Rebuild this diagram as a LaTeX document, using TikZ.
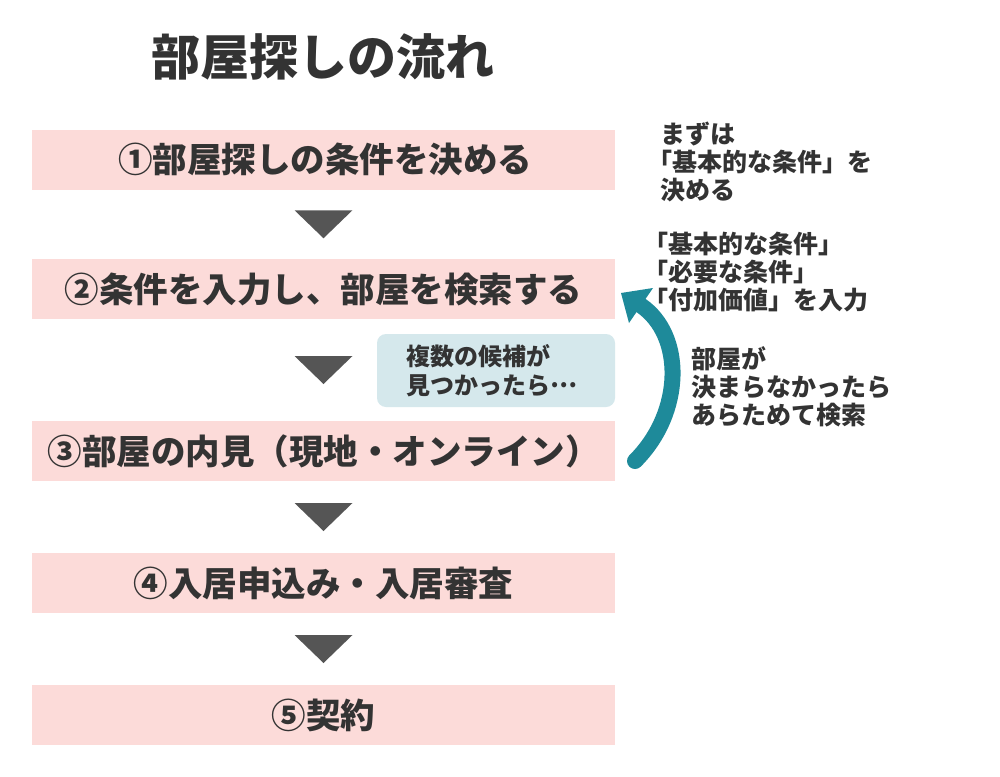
\documentclass[tikz,border=0pt]{standalone}
\usepackage{fontspec}
\setmainfont{Noto Sans CJK JP}
\usetikzlibrary{calc}
\definecolor{stepfill}{HTML}{FCDBD9}
\definecolor{notefill}{HTML}{D5E8EC}
\definecolor{tricol}{HTML}{555555}
\definecolor{textc}{HTML}{333333}
\definecolor{loopc}{HTML}{1E8A9A}
\tikzset{
  stepbox/.style={fill=stepfill, minimum width=583pt, minimum height=60pt, inner sep=0pt,
    text=textc, font=\bfseries\fontsize{34.5}{40}\selectfont},
  notebox/.style={fill=notefill, minimum width=238pt, minimum height=73pt, inner sep=0pt, rounded corners=9pt},
  notetext/.style={align=left, inner sep=0pt, text=textc, font=\bfseries\fontsize{24}{29}\selectfont},
  anno/.style={anchor=north west, align=left, inner sep=0pt, text=textc, font=\bfseries\fontsize{25}{28}\selectfont},
  titletext/.style={inner sep=0pt, text=textc, font=\bfseries\fontsize{49}{56}\selectfont},
  loopline/.style={draw=loopc, line width=16pt, line cap=round},
  downtri/.pic={\fill[tricol] (-29,-14) -- (29,-14) -- (0,14) -- cycle;}
}
\begin{document}
\begin{tikzpicture}[x=1pt,y=-1pt]
\useasboundingbox (0,0) rectangle (1000,776);
\fill[white] (0,0) rectangle (1000,776);

\node[titletext] (title) at (323,57) {部屋探しの流れ};

\node[stepbox] (s1) at (323.5,159.5) {\hspace{3pt}①部屋探しの条件を決める};
\node[stepbox] (s2) at (323.5,289) {②条件を入力し、部屋を検索する};
\node[stepbox] (s3) at (323.5,451) {③部屋の内見（現地・オンライン）};
\node[stepbox] (s4) at (323.5,583) {④入居申込み・入居審査};
\node[stepbox] (s5) at (323.5,715) {⑤契約};

\path ($(s1.south)!0.5!(s2.north)$) pic {downtri};
\path ($(s2.south)!0.5!(s3.north)$) pic {downtri};
\path ($(s3.south)!0.5!(s4.north)$) pic {downtri};
\path ($(s4.south)!0.5!(s5.north)$) pic {downtri};

\node[notebox] (note) at (496,370.5) {};
\node[notetext, anchor=west] (notet) at (406,371) {複数の候補が\\見つかったら\raisebox{0.3em}{…}};

\node[anno] (a1) at (660,122) {まずは\\\hspace{-12.5pt}「基本的な条件」を\\決める};
\node[anno] (a2) at (656,232) {\hspace{-12.5pt}「基本的な条件」\\\hspace{-12.5pt}「必要な条件」\\\hspace{-12.5pt}「付加価値」を入力};
\node[anno] (a3) at (691,346) {部屋が\\決まらなかったら\\あらためて検索};

\coordinate (astart) at (635,461);
\coordinate (abase) at (641,305.5);
\coordinate (atip) at (621,293);
\coordinate (ab1) at (653,288);
\coordinate (ab2) at (629,323);
\draw[loopline] (astart) .. controls (684,412) and (684,335) .. (abase);
\fill[loopc] (atip) -- (ab1) -- (ab2) -- cycle;
\end{tikzpicture}
\end{document}
